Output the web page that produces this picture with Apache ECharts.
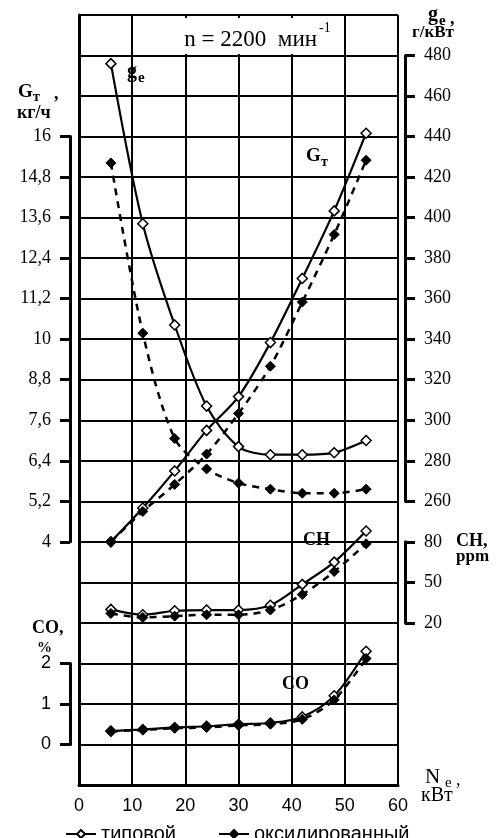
<!DOCTYPE html>
<html>
<head>
<meta charset="utf-8">
<script src="https://cdn.jsdelivr.net/npm/echarts@6/dist/echarts.min.js"></script>
<style>
  html, body { margin: 0; padding: 0; background: #fff; }
  #chart { width: 500px; height: 838px; }
</style>
</head>
<body>
<div id="chart"></div>
<script>
// мощность Ne, кВт
const ne = [6, 12, 18, 24, 30, 36, 42, 48, 54];

// удельный расход ge, г/кВт·ч
const geTyp = [476, 397, 347, 307, 287, 283, 283, 284, 290];
const geOx = [427, 343, 291, 276, 269, 266, 264, 264, 266];

// часовой расход Gт, кг/ч
const gtTyp = [4.0, 5.0, 6.1, 7.3, 8.3, 9.9, 11.8, 13.8, 16.1];
const gtOx = [4.0, 4.9, 5.7, 6.6, 7.8, 9.2, 11.1, 13.1, 15.3];

// CH, ppm
const chTyp = [30, 26, 29, 29.5, 29.5, 33, 48.5, 65, 88];
const chOx = [27, 24, 25, 26, 26, 29.5, 41, 58, 78.5];

// CO, %
const coTyp = [0.33, 0.37, 0.42, 0.45, 0.5, 0.53, 0.68, 1.2, 2.3];
const coOx = [0.32, 0.36, 0.4, 0.42, 0.47, 0.5, 0.62, 1.1, 2.12];

const seriesNames = ['типовой', 'оксидированный'];

const SERIF = '"Liberation Serif", "Times New Roman", serif';
const SANS = '"Liberation Sans", Arial, sans-serif';

const chart = echarts.init(document.getElementById('chart'));

// основная сетка: 19 строк
const G = { left: 79, right: 102, top: 15, bottom: 53 };
const rowH = (838 - G.top - G.bottom) / 19;
// сетка для шкалы, занимающей строки [from, to] (считая снизу)
const sub = (from, to) => ({
  left: G.left, right: G.right,
  top: G.top + (19 - to) * rowH,
  bottom: G.bottom + from * rowH
});

const pair = vals => ne.map((x, i) => [x, vals[i]]);

const mkSeries = (idx, typ, ox) => [
  {
    name: seriesNames[0], type: 'line', xAxisIndex: idx, yAxisIndex: idx,
    data: pair(typ), smooth: 0.3, clip: false,
    symbol: 'diamond', symbolSize: [10, 10],
    itemStyle: { color: '#fff', borderColor: '#000', borderWidth: 1.5 },
    lineStyle: { color: '#000', width: 2.2 }, z: 3
  },
  {
    name: seriesNames[1], type: 'line', xAxisIndex: idx, yAxisIndex: idx,
    data: pair(ox), smooth: 0.3, clip: false,
    symbol: 'diamond', symbolSize: [10, 10],
    itemStyle: { color: '#000', borderColor: '#000', borderWidth: 1 },
    lineStyle: { color: '#000', width: 2.5, type: [7, 6] }, z: 4
  }
];

const hiddenX = i => ({ type: 'value', gridIndex: i, min: 0, max: 60, show: false });

const scaleAxis = (i, pos, min, max, step, family, fmt) => ({
  type: 'value', gridIndex: i, position: pos, offset: pos === 'left' ? 9 : 7,
  min: min, max: max, interval: step,
  axisLine: { show: true, onZero: false, lineStyle: { color: '#000', width: 3 } },
  axisTick: { show: true, inside: false, length: 10, lineStyle: { color: '#000', width: 3 } },
  axisLabel: { color: '#000', fontFamily: family, fontSize: 18, margin: 19, formatter: fmt },
  splitLine: { show: false }
});

const comma = v => String(Math.round(v * 10) / 10).replace('.', ',');

const txt = (text, x, y, font, align) => ({
  type: 'text', x: x, y: y, silent: true, z: 10,
  style: {
    text: text, font: font, fill: '#000',
    align: align || 'left', verticalAlign: 'middle',
    textAlign: align || 'left', textVerticalAlign: 'middle'
  }
});

const B = s => 'bold ' + s + 'px ' + SERIF;
const R = s => s + 'px ' + SERIF;

const option = {
  animation: false,
  grid: [
    G,
    sub(6, 16),   // Gт
    sub(7, 18),   // ge
    sub(4, 6),    // CH
    sub(1, 3)     // CO
  ],
  xAxis: [
    {
      type: 'value', gridIndex: 0, min: 0, max: 60, interval: 10,
      axisLine: { lineStyle: { color: '#000', width: 3 } },
      axisTick: { show: false },
      axisLabel: { color: '#000', fontFamily: SANS, fontSize: 18, margin: 12 },
      splitLine: { show: true, lineStyle: { color: '#000', width: 2 } }
    },
    hiddenX(1), hiddenX(2), hiddenX(3), hiddenX(4)
  ],
  yAxis: [
    {
      type: 'value', gridIndex: 0, min: 0, max: 19, interval: 1,
      axisLine: { show: true, lineStyle: { color: '#000', width: 3 } },
      axisTick: { show: false }, axisLabel: { show: false },
      splitLine: { show: true, lineStyle: { color: '#000', width: 2 } }
    },
    scaleAxis(1, 'left', 4, 16, 1.2, SERIF, comma),
    scaleAxis(2, 'right', 260, 480, 20, SERIF),
    scaleAxis(3, 'right', 20, 80, 30, SERIF),
    scaleAxis(4, 'left', 0, 2, 1, SANS)
  ],
  legend: {
    data: seriesNames, left: 60, top: 819,
    itemWidth: 30, itemHeight: 10, itemGap: 42,
    textStyle: { color: '#000', fontFamily: SANS, fontSize: 20 },
    lineStyle: { type: 'solid', width: 2 }
  },
  series: [].concat(
    mkSeries(1, gtTyp, gtOx),
    mkSeries(2, geTyp, geOx),
    mkSeries(3, chTyp, chOx),
    mkSeries(4, coTyp, coOx)
  ),
  graphic: [
    // белая подложка под заголовком режима
    {
      type: 'rect', z: 9, silent: true,
      shape: { x: 142, y: 18, width: 192, height: 36 },
      style: { fill: '#fff' }
    },
    // режим
    txt('n = 2200  мин', 317, 40, R(23), 'right'),
    txt('-1', 319, 28, R(14)),
    // Gт, кг/ч
    txt('G', 18, 92, B(19)),
    txt('т', 33, 97, B(14)),
    txt(',', 54, 94, B(18)),
    txt('кг/ч', 17, 113, B(18)),
    // ge, г/кВт
    txt('g', 428, 15, B(20)),
    txt('e', 439, 21, B(15)),
    txt(',', 450, 19, B(18)),
    txt('г/кВт', 412, 33, B(17)),
    // CH, ppm
    txt('CH,', 456, 541, B(18)),
    txt('ppm', 456, 557, B(17)),
    // CO, %
    txt('CO,', 32, 628, B(18)),
    txt('%', 37, 648, B(15)),
    // Ne, кВт
    txt('N', 425, 777, R(21)),
    txt('e', 445, 783, R(15)),
    txt(',', 456, 780, R(18)),
    txt('кВт', 421, 796, R(20)),
    // подписи кривых
    txt('g', 127, 72, B(20)),
    txt('e', 138, 78, B(15)),
    txt('G', 306, 156, B(19)),
    txt('т', 321, 162, B(14)),
    txt('CH', 303, 540, B(18)),
    txt('CO', 282, 684, B(18))
  ]
};

chart.setOption(option);
</script>
</body>
</html>
